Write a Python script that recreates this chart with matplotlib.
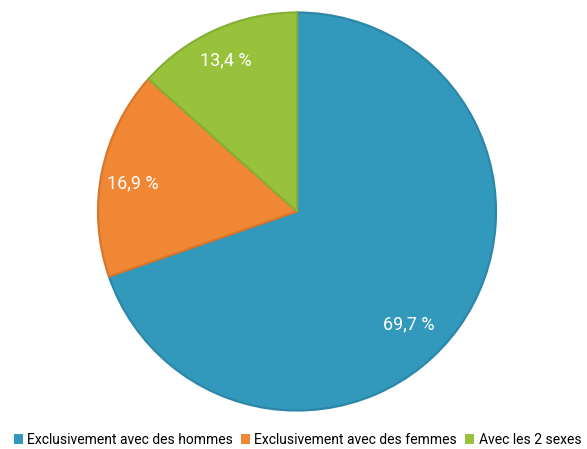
import numpy as np
import matplotlib
matplotlib.use("Agg")
import matplotlib.pyplot as plt
from matplotlib.patches import Patch

plt.rcParams["font.family"] = ["Roboto", "DejaVu Sans"]

categories = ["Exclusivement avec des hommes", "Exclusivement avec des femmes", "Avec les 2 sexes"]
shares = [69.7, 16.9, 13.4]
fill_colors = ["#3399bc", "#f08734", "#99c23c"]
edge_colors = ["#2d87a8", "#d9762c", "#86af35"]

# label placement per slice: (angle in degrees, distance as fraction of radius)
label_pos = [(-45.4, 0.80), (170.3, 0.835), (115.2, 0.84)]

fig = plt.figure(figsize=(5.87, 4.49), dpi=100)
W, H = 587, 449
ax = fig.add_axes([98 / W, (H - 410.5) / H, 398 / W, 398 / H])

wedges, _ = ax.pie(
    shares,
    colors=fill_colors,
    startangle=90,
    counterclock=False,
    radius=1.0,
    wedgeprops=dict(linewidth=1.6),
)
for w, ec in zip(wedges, edge_colors):
    w.set_edgecolor(ec)

for val, (ang, dist) in zip(shares, label_pos):
    a = np.deg2rad(ang)
    txt = f"{val:.1f}".replace(".", ",") + " %"
    ax.text(dist * np.cos(a), dist * np.sin(a), txt, ha="center", va="center",
            color="white", fontsize=13)

ax.set_xlim(-1, 1)
ax.set_ylim(-1, 1)
ax.set_aspect("auto")
ax.axis("off")

handles = [Patch(facecolor=c, edgecolor="none") for c in fill_colors]
fig.legend(handles, categories, loc="center", bbox_to_anchor=(0.5 + 4 / W, 1 - 440 / H),
           ncol=3, frameon=False, fontsize=10, handlelength=0.65, handleheight=0.65,
           handletextpad=0.3, columnspacing=0.6)

fig.savefig("out.png", dpi=100)
